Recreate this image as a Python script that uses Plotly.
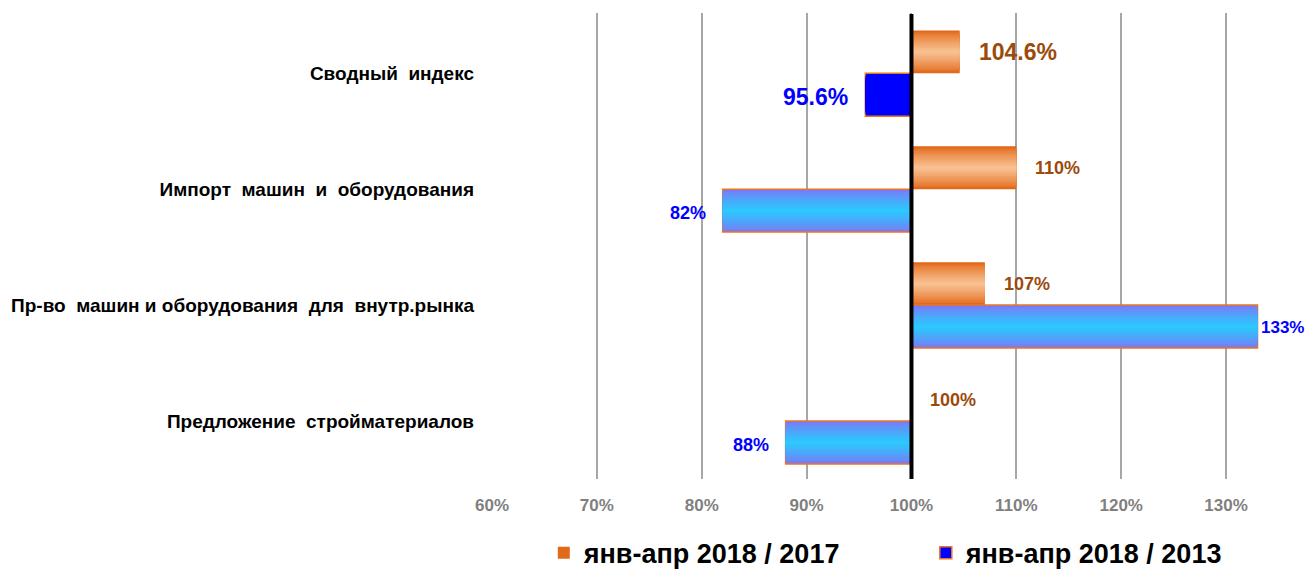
import plotly.graph_objects as go

categories = ["Сводный  индекс", "Импорт  машин  и  оборудования", "Пр-во  машин и оборудования  для  внутр.рынка", "Предложение  стройматериалов"]
s2017 = [104.6, 110, 107, 100]
s2013 = [95.6, 82, 133, 88]
name2017 = "янв-апр 2018 / 2017"
name2013 = "янв-апр 2018 / 2013"
xticks = [60, 70, 80, 90, 100, 110, 120, 130]
xticklabels = ["60%", "70%", "80%", "90%", "100%", "110%", "120%", "130%"]
BASE = 100

FONT = "Liberation Sans Narrow, Arial Narrow, Liberation Sans, Arial, sans-serif"
BW = 0.37  # bar thickness in category units


def lerp(c1, c2, t):
    a = [int(c1[i:i + 2], 16) for i in (1, 3, 5)]
    b = [int(c2[i:i + 2], 16) for i in (1, 3, 5)]
    return "#%02x%02x%02x" % tuple(round(a[k] + (b[k] - a[k]) * t) for k in range(3))


fig = go.Figure()

N = 10
o_edge, o_mid = "#E2691A", "#F8C090"
b_edge, b_mid = "#7A78F6", "#2CC8FF"
for i in range(N):
    t = i / (N - 1)
    w = BW * (1 - 0.92 * t)
    col = lerp(o_edge, o_mid, t ** 0.8)
    fig.add_trace(go.Bar(
        y=categories, x=[v - BASE for v in s2017], base=BASE, orientation="h",
        width=w, offset=-BW / 2 - w / 2,
        marker=dict(color=col if i > 0 else "#EE9050", line=dict(width=0)),
        name=name2017, showlegend=(i == 0), legendgroup="a",
        hoverinfo="skip",
    ))
for i in range(N):
    t = i / (N - 1)
    w = BW * (1 - 0.92 * t)
    col = lerp(b_edge, b_mid, t ** 0.8)
    colors = ["#0000FF"] + [col] * (len(s2013) - 1)
    fig.add_trace(go.Bar(
        y=categories, x=[v - BASE for v in s2013], base=BASE, orientation="h",
        width=w, offset=BW / 2 - w / 2,
        marker=dict(color=colors if i > 0 else ["#0000FF"] + ["#55A0FA"] * 3,
                    line=dict(width=1.5 if i == 0 else 0, color="#E87722")),
        name=name2013, showlegend=(i == 0), legendgroup="b",
        hoverinfo="skip",
    ))
fig.data[0].marker.color = [o_edge] * 4
fig.data[N].marker.color = ["#0000FF"] + [b_edge] * 3

# data labels
for c, v in zip(categories, s2017):
    big = c == categories[0]
    fig.add_annotation(x=v, y=c, text="%s%%" % (("%.1f" % v) if v % 1 else ("%d" % v)),
                       xanchor="left", xshift=17, yshift=21, showarrow=False,
                       font=dict(family=FONT, size=23 if big else 18, color="#9C4A0C", weight="bold"))
for c, v in zip(categories, s2013):
    big = c == categories[0]
    txt = "%s%%" % (("%.1f" % v) if v % 1 else ("%d" % v))
    if v >= BASE:
        fig.add_annotation(x=v, y=c, text=txt, xanchor="left", xshift=1, yshift=-22, showarrow=False,
                           font=dict(family=FONT, size=17, color="#0000FF", weight="bold"))
    else:
        fig.add_annotation(x=v, y=c, text=txt, xanchor="right", xshift=-15, yshift=-24, showarrow=False,
                           font=dict(family=FONT, size=23 if big else 18, color="#0000FF", weight="bold"))

# 100% reference line
fig.add_shape(type="line", x0=BASE, x1=BASE, xref="x", y0=0, y1=0.998, yref="paper",
              line=dict(color="#000000", width=4), layer="above")

fig.update_layout(
    width=1306, height=564,
    margin=dict(l=484, r=25, t=5, b=93, autoexpand=False),
    paper_bgcolor="white", plot_bgcolor="white",
    barmode="overlay",
    font=dict(family=FONT),
    legend=dict(orientation="h", x=0.065, y=-0.159, xanchor="left", yanchor="middle",
                font=dict(family=FONT, size=27, color="#000000", weight="bold"),
                entrywidth=337, entrywidthmode="pixels", itemwidth=30,
                traceorder="normal"),
    xaxis=dict(range=[60, 136], tickvals=xticks, ticktext=xticklabels,
               showgrid=True, gridcolor="#A6A6A6", gridwidth=1.5, zeroline=False,
               showline=False, ticks="", ticklabelstandoff=14,
               tickfont=dict(family=FONT, size=17, color="#7F7F7F", weight="bold")),
    yaxis=dict(type="category", range=[3.5, -0.52], showgrid=False, zeroline=False,
               showline=False, ticks="", ticklabelstandoff=17,
               tickfont=dict(family=FONT, size=19, color="#000000", weight="bold")),
)

fig.write_html("out.html")
